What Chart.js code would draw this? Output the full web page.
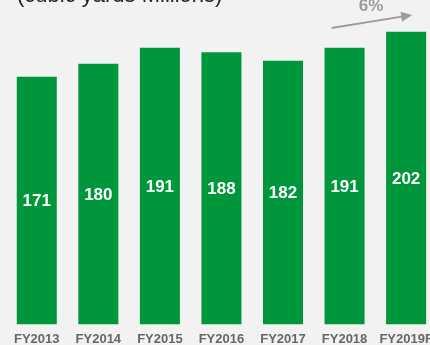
<!DOCTYPE html>
<html>
<head>
<meta charset="utf-8">
<script src="https://cdn.jsdelivr.net/npm/chart.js@4.4.1/dist/chart.umd.min.js"></script>
<style>
  html, body { margin: 0; padding: 0; overflow: hidden; background: #f2f2f2; }
  #wrap { width: 430px; height: 345px; overflow: hidden; }
</style>
</head>
<body>
<div id="wrap"><canvas id="chart_volume" width="440" height="345"></canvas></div>
<script>
// volumes per fiscal year, cubic yards (millions)
var years = ['FY2013', 'FY2014', 'FY2015', 'FY2016', 'FY2017', 'FY2018', 'FY2019F'];
var volumes = [171, 180, 191, 188, 182, 191, 202];
var growthText = '6%';
var unitText = '(cubic yards Millions)';

var barGreen = '#00963b';
var arrowGray = '#9b9b9b';

var decorations = {
  id: 'decorations',
  beforeDraw: function (chart) {
    var ctx = chart.ctx;
    ctx.save();
    ctx.fillStyle = '#f2f2f2';
    ctx.fillRect(0, 0, chart.width, chart.height);
    ctx.restore();
  },
  afterDatasetsDraw: function (chart) {
    var ctx = chart.ctx;
    var bars = chart.getDatasetMeta(0).data;
    ctx.save();

    // unit caption, mostly above the top edge
    ctx.fillStyle = '#262626';
    ctx.font = '22px "Liberation Sans", Arial, sans-serif';
    ctx.textAlign = 'left';
    ctx.textBaseline = 'alphabetic';
    ctx.fillText(unitText, 17, 1.5);

    // value labels in the middle of each bar
    ctx.fillStyle = '#ffffff';
    ctx.font = 'bold 17px "Liberation Sans", Arial, sans-serif';
    ctx.textAlign = 'center';
    ctx.textBaseline = 'middle';
    bars.forEach(function (bar, i) {
      ctx.fillText(volumes[i], bar.x, (bar.y + bar.base) / 2 + 1);
    });

    // growth arrow over the last two years
    var x0 = bars[5].x - 13, y0 = 28;
    var x1 = bars[6].x + 6, y1 = 15;
    var ang = Math.atan2(y1 - y0, x1 - x0);
    ctx.strokeStyle = arrowGray;
    ctx.fillStyle = arrowGray;
    ctx.lineWidth = 1.8;
    ctx.beginPath();
    ctx.moveTo(x0, y0);
    ctx.lineTo(x1 - 9 * Math.cos(ang), y1 - 9 * Math.sin(ang));
    ctx.stroke();
    ctx.beginPath();
    ctx.moveTo(x1, y1);
    ctx.lineTo(x1 - 11 * Math.cos(ang) + 5 * Math.sin(ang), y1 - 11 * Math.sin(ang) - 5 * Math.cos(ang));
    ctx.lineTo(x1 - 11 * Math.cos(ang) - 5 * Math.sin(ang), y1 - 11 * Math.sin(ang) + 5 * Math.cos(ang));
    ctx.closePath();
    ctx.fill();

    ctx.font = 'bold 17px "Liberation Sans", Arial, sans-serif';
    ctx.textAlign = 'center';
    ctx.textBaseline = 'alphabetic';
    ctx.fillText(growthText, 371, 11);
    ctx.restore();
  }
};

var chart_volume = document.getElementById('chart_volume').getContext('2d');
var chartVolume = new Chart(chart_volume, {
  type: 'bar',
  data: {
    labels: years,
    datasets: [{
      data: volumes,
      backgroundColor: barGreen,
      borderWidth: 0,
      categoryPercentage: 1,
      barPercentage: 0.65
    }]
  },
  options: {
    responsive: false,
    animation: false,
    devicePixelRatio: 1,
    layout: { padding: { left: 6, right: 2, top: 0, bottom: -9 } },
    plugins: {
      legend: { display: false },
      tooltip: { enabled: false }
    },
    scales: {
      x: {
        grid: { display: false, drawTicks: false },
        border: { display: false },
        ticks: {
          color: '#676767',
          padding: 7,
          maxRotation: 0,
          autoSkip: false,
          font: { family: '"Liberation Sans", Arial, sans-serif', size: 13, weight: 'bold' }
        }
      },
      y: {
        display: false,
        min: 0,
        max: 224
      }
    }
  },
  plugins: [decorations]
});
</script>
</body>
</html>
